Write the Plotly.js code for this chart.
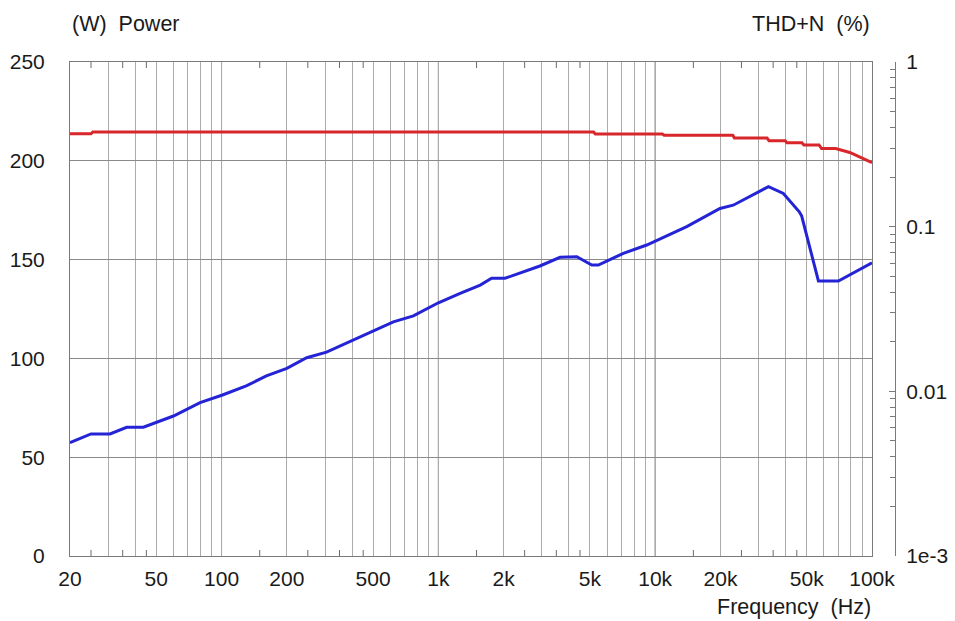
<!DOCTYPE html>
<html><head><meta charset="utf-8">
<script src="https://cdn.plot.ly/plotly-3.0.1.min.js"></script>
<style>html,body{margin:0;padding:0;background:#fff}</style>
</head><body><div id="chart" style="width:955px;height:621px"></div>
<script>
// Power (W) vs frequency (Hz) - left axis
const powerFreq = [20, 25, 25.5, 5200, 5300, 10800, 11000, 22800, 23200, 32800, 33500, 39800, 40500, 47500, 48500, 57000, 58500, 68000, 79000, 88000, 100000];
const powerW    = [213.7, 213.7, 214.6, 214.6, 213.5, 213.5, 212.9, 212.9, 211.5, 211.5, 210.2, 210.2, 209.1, 209.1, 208.0, 208.0, 206.2, 206.2, 204.2, 201.9, 199.1];

// THD+N (%) vs frequency (Hz) - right axis
const thdFreq = [20, 25, 30.6, 36.5, 43.6, 60, 79.6, 101, 130, 161, 200, 247, 305, 405, 520, 620, 767, 1000, 1260, 1560, 1760, 2030, 2940, 3640, 4350, 5100, 5470, 7130, 9140, 13980, 19900, 22900, 33300, 39000, 46200, 47400, 56600, 70000, 100000];
const thdPct  = [0.00488, 0.00551, 0.00551, 0.00605, 0.00605, 0.00708, 0.00853, 0.0095, 0.0108, 0.0124, 0.0138, 0.0160, 0.0173, 0.0205, 0.0238, 0.0264, 0.0287, 0.0345, 0.0394, 0.0442, 0.0486, 0.0486, 0.0577, 0.0652, 0.0657, 0.0585, 0.0585, 0.0689, 0.0774, 0.100, 0.129, 0.135, 0.175, 0.159, 0.123, 0.116, 0.0468, 0.0468, 0.0604];

// Axis ticks
const gridFreqs = [20,30,40,50,60,70,80,90,100,200,300,400,500,600,700,800,900,1000,2000,3000,4000,5000,6000,7000,8000,9000,10000,20000,30000,40000,50000,60000,70000,80000,90000,100000];
const labelFreqs = [20,50,100,200,500,1000,2000,5000,10000,20000,50000,100000];
const labelTexts = ['20','50','100','200','500','1k','2k','5k','10k','20k','50k','100k'];
const decadeFreqs = [100,1000,10000];
const minorFreqs = [25,35,45,150,250,350,450,1500,2500,3500,4500,15000,25000,35000,45000];
const powerTicks = [0,50,100,150,200,250];
const thdTicks = [0.001,0.01,0.1,1];
const thdTickText = ['1e-3','0.01','0.1','1'];
const thdMinor = [0.002,0.003,0.004,0.005,0.006,0.007,0.008,0.009,0.02,0.03,0.04,0.05,0.06,0.07,0.08,0.09,0.2,0.3,0.4,0.5,0.6,0.7,0.8,0.9];

const gridText = gridFreqs.map(f => { const i = labelFreqs.indexOf(f); return i >= 0 ? labelTexts[i] : ''; });
const xRange = [Math.log10(20), Math.log10(100000)];
const FAM = 'Liberation Sans, Arial, sans-serif';
const TICKFONT = {family: FAM, size: 21, color: '#1a1a1a'};
const TITLEFONT = {family: FAM, size: 21.5, color: '#1a1a1a'};
const W = 955, L = 70, R = 55;
const paperW = W - L - R;
const xEnd = 802 / paperW;

const traces = [
  {x: powerFreq, y: powerW, type: 'scatter', mode: 'lines', xaxis: 'x', yaxis: 'y',
   line: {color: '#d8262a', width: 3}, hoverinfo: 'x+y'},
  {x: thdFreq, y: thdPct, type: 'scatter', mode: 'lines', xaxis: 'x', yaxis: 'y2',
   line: {color: '#2424d6', width: 3}, hoverinfo: 'x+y'}
];

// darker decade gridlines, built from the decade list
const decadeLines = decadeFreqs.map(f => ({
  type: 'line', layer: 'below', xref: 'x', yref: 'paper', x0: f, x1: f, y0: 0, y1: 1,
  line: {color: '#5a5a5a', width: 1}
}));
// short inside frequency ticks at bottom and top edges (pixel-sized)
const minorTickMarks = [];
minorFreqs.forEach(f => {
  minorTickMarks.push({type: 'line', layer: 'above', xref: 'x', yref: 'paper', ysizemode: 'pixel', yanchor: 0,
    x0: f, x1: f, y0: 0, y1: 6, line: {color: '#6a6a6a', width: 1}});
  minorTickMarks.push({type: 'line', layer: 'above', xref: 'x', yref: 'paper', ysizemode: 'pixel', yanchor: 1,
    x0: f, x1: f, y0: 0, y1: -6, line: {color: '#6a6a6a', width: 1}});
});

const layout = {
  width: 955, height: 621,
  margin: {l: L, r: R, t: 62, b: 65},
  paper_bgcolor: '#ffffff', plot_bgcolor: '#ffffff',
  showlegend: false,
  font: TICKFONT,
  xaxis: {
    type: 'log', range: xRange, domain: [0, xEnd], anchor: 'y',
    tickmode: 'array', tickvals: gridFreqs, ticktext: gridText,
    ticks: '', showgrid: true, gridcolor: '#ababab', gridwidth: 1,
    showline: true, linecolor: '#7a7a7a', linewidth: 1, mirror: true,
    tickfont: TICKFONT, ticklabelstandoff: 4,
    zeroline: false, fixedrange: true
  },
  yaxis: {
    range: [0, 250], tickmode: 'array', tickvals: powerTicks,
    ticks: '', showgrid: true, gridcolor: '#8a8a8a', gridwidth: 1,
    showline: true, linecolor: '#7a7a7a', linewidth: 1, mirror: true,
    tickfont: TICKFONT, ticklabelstandoff: 20, zeroline: false, fixedrange: true
  },
  yaxis2: {
    type: 'log', range: [-3, 0], overlaying: 'y', anchor: 'free', side: 'right',
    position: (895 - L) / paperW,
    tickmode: 'array', tickvals: thdTicks, ticktext: thdTickText,
    ticks: 'inside', ticklen: 6, tickcolor: '#7a7a7a',
    minor: {tickmode: 'array', tickvals: thdMinor, ticks: 'inside', ticklen: 5, tickcolor: '#7a7a7a', showgrid: false},
    showgrid: false, showline: true, linecolor: '#7a7a7a', linewidth: 1,
    tickfont: TICKFONT, ticklabelstandoff: 6, zeroline: false, fixedrange: true
  },
  shapes: decadeLines.concat(minorTickMarks),
  annotations: [
    {text: '(W)\u00a0\u00a0Power', xref: 'paper', yref: 'paper', x: 0, y: (556 - 24) / 494,
     xanchor: 'left', yanchor: 'middle', showarrow: false, font: TITLEFONT},
    {text: 'THD+N\u00a0\u00a0(%)', xref: 'paper', yref: 'paper', x: (872 - L) / paperW, y: (556 - 24) / 494,
     xanchor: 'right', yanchor: 'middle', showarrow: false, font: TITLEFONT},
    {text: 'Frequency\u00a0\u00a0(Hz)', xref: 'paper', yref: 'paper', x: (873 - L) / paperW, y: (556 - 607) / 494,
     xanchor: 'right', yanchor: 'middle', showarrow: false, font: TITLEFONT}
  ]
};

Plotly.newPlot('chart', traces, layout, {displayModeBar: false, staticPlot: true});
</script>
</body></html>
